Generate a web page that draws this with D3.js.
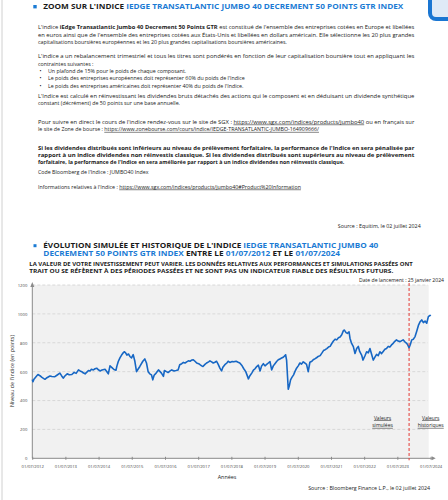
<!DOCTYPE html>
<html><head><meta charset="utf-8">
<script src="https://cdn.jsdelivr.net/npm/d3@7"></script>
<style>body{margin:0;background:#fff}svg{display:block}</style>
</head><body>
<svg id="c" width="448" height="500"></svg>
<script>
// ---------------- DATA ----------------
const xTickYears = [2012,2013,2014,2015,2016,2017,2018,2019,2020,2021,2022,2023,2024];
const yTicks = [0,200,400,600,800,1000,1200];
// dates as decimal years
const seriesYears = [
2012.50,2012.52,2012.55,2012.63,2012.67,2012.73,2012.79,2012.88,2012.94,2013.03,
2013.09,2013.18,2013.24,2013.33,2013.38,2013.43,2013.48,2013.55,2013.61,2013.69,
2013.76,2013.82,2013.89,2013.94,2013.99,2014.03,2014.09,2014.15,2014.19,2014.24,
2014.28,2014.34,2014.39,2014.44,2014.48,2014.54,2014.60,2014.69,2014.73,2014.79,
2014.84,2014.90,2014.96,2015.02,2015.05,2015.09,2015.14,2015.19,2015.23,2015.27,
2015.31,2015.35,2015.40,2015.44,2015.49,2015.54,2015.59,2015.64,2015.68,2015.74,
2015.83,2015.89,2015.94,2015.99,2016.04,2016.09,2016.13,2016.17,2016.23,2016.30,
2016.35,2016.39,2016.45,2016.48,2016.54,2016.59,2016.65,2016.70,2016.77,2016.83,
2016.89,2016.94,2017.00,2017.05,2017.10,2017.15,2017.20,2017.25,2017.30,2017.35,
2017.40,2017.45,2017.51,2017.55,2017.60,2017.64,2017.70,2017.75,2017.81,2017.85,
2017.90,2017.95,2018.00,2018.05,2018.10,2018.15,2018.20,2018.24,2018.30,2018.36,
2018.40,2018.45,2018.52,2018.57,2018.64,2018.70,2018.75,2018.82,2018.87,2018.93,
2019.01,2019.05,2019.11,2019.16,2019.21,2019.26,2019.31,2019.36,2019.41,2019.46,
2019.51,2019.56,2019.61,2019.66,2019.71,2019.76,2019.81,2019.86,2019.91,2019.96,
2020.01,2020.06,2020.11,2020.13,2020.16,2020.19,2020.21,2020.24,2020.28,2020.32,
2020.37,2020.41,2020.46,2020.51,2020.56,2020.61,2020.66,2020.71,2020.76,2020.81,
2020.86,2020.92,2020.96,2021.02,2021.07,2021.11,2021.17,2021.22,2021.27,2021.32,
2021.37,2021.42,2021.47,2021.52,2021.57,2021.62,2021.67,2021.72,2021.77,2021.82,
2021.87,2021.90,2021.95,2021.99,2022.04,2022.07,2022.11,2022.17,2022.22,2022.27,
2022.32,2022.36,2022.42,2022.46,2022.52,2022.57,2022.62,2022.67,2022.72,2022.77,
2022.82,2022.87,2022.92,2022.97,2023.02,2023.07,2023.12,2023.17,2023.22,2023.27,
2023.32,2023.37,2023.42,2023.47,2023.52,2023.58,2023.63,2023.67,2023.73,2023.78,
2023.82,2023.85,2023.89,2023.93,2023.98,2024.03,2024.08,2024.13,2024.18,2024.23,
2024.28,2024.33,2024.38,2024.43,2024.48,2024.50
];
const seriesValues = [
545,530,548,570,580,572,560,547,558,570,
566,565,575,590,572,555,570,585,578,580,
595,588,612,605,600,592,585,598,608,605,
616,612,620,624,615,605,612,617,605,585,
640,628,615,610,640,670,695,715,728,738,
730,715,722,705,695,718,672,600,615,636,
672,688,660,600,585,578,543,575,590,612,
600,590,567,608,600,594,605,612,605,608,
612,648,655,664,660,668,675,672,680,682,
672,660,655,648,640,636,650,660,668,675,
668,660,665,672,650,624,605,630,648,660,
672,664,670,668,672,665,660,640,620,600,
550,570,590,610,620,635,645,605,640,655,
640,650,660,670,612,640,655,670,682,688,
694,700,711,717,680,560,478,500,543,560,
578,600,624,640,660,652,668,660,650,600,
665,672,682,690,698,705,711,728,746,752,
760,770,775,795,812,825,820,835,840,855,
884,888,870,865,876,830,800,773,726,760,
775,740,715,680,710,738,730,760,720,680,
700,720,710,738,725,740,755,760,775,770,
785,796,810,820,812,808,815,820,805,796,
780,765,790,820,825,843,880,920,945,958,
940,950,935,981,990,985
];
const launchYear = 2023.85;
const launchLabel = "Date de lancement : 25 janvier 2024";
const zoneLabels = [["Valeurs","simulées"],["Valeurs","historiques"]];
const zoneYears = [2023.05, 2024.5];

// ---------------- HELPERS ----------------
const svg = d3.select("#c");
const BLUE = "#1b7bd4", INK = "#1a1a1a";
const FONT = "'Open Sans', 'Noto Sans', sans-serif";
const toDate = y => { const yr = Math.floor(y); const s = Date.UTC(yr,0,1), e = Date.UTC(yr+1,0,1); return new Date(s + (y-yr)*(e-s)); };

function line(x, y, segs, o = {}) {
  const t = svg.append("text").attr("x", x).attr("y", y)
    .attr("font-family", FONT).attr("font-size", o.size || 5.3)
    .attr("fill", o.fill || INK).attr("text-anchor", o.anchor || "start");
  if (o.bold) t.attr("font-weight", "bold");
  segs.forEach(([s, f]) => {
    const sp = t.append("tspan").text(s);
    if (f.includes("b")) sp.attr("font-weight", "bold");
    if (f.includes("u")) sp.attr("text-decoration", "underline");
    if (f.includes("c")) sp.attr("fill", BLUE);
    if (f.includes("k")) sp.attr("fill", INK);
  });
  if (o.w) t.attr("textLength", o.w).attr("lengthAdjust", "spacingAndGlyphs");
  return t;
}

// page decorations
svg.append("line").attr("x1", 2).attr("x2", 2).attr("y1", 0).attr("y2", 500).attr("stroke", "#d0d0d0").attr("stroke-width", 1);
svg.append("rect").attr("x", 430).attr("y", -12).attr("width", 30).attr("height", 31).attr("rx", 6)
  .attr("fill", "#dfeaf7").attr("stroke", "#1a76d2").attr("stroke-width", 4);

// ---------------- HEADER 1 ----------------
svg.append("rect").attr("x", 33.3).attr("y", 5).attr("width", 3.4).attr("height", 3.4).attr("fill", BLUE);
line(43.3, 9.3, [["ZOOM SUR L'INDICE ", "k"], ["IEDGE TRANSATLANTIC JUMBO 40 DECREMENT 50 POINTS GTR INDEX", "c"]], {size: 7.6, bold: true, w: 360});

const L = 38, R = 414.3;
// [baseline, justified?, segments]
const body = [
  [29.3, true, [["L'indice ", ""], ["iEdge Transatlantic Jumbo 40 Decrement 50 Points GTR", "b"], [" est constitué de l'ensemble des entreprises cotées en Europe et libellées", ""]]],
  [36.7, true, [["en euros ainsi que de l'ensemble des entreprises cotées aux États-Unis et libellées en dollars américain. Elle sélectionne les 20 plus grandes", ""]]],
  [44.2, false, [["capitalisations boursières européennes et les 20 plus grandes capitalisations boursières américaines.", ""]]],
  [58.2, true, [["L'indice a un rebalancement trimestriel et tous les titres sont pondérés en fonction de leur capitalisation boursière tout en appliquant les", ""]]],
  [65.6, false, [["contraintes suivantes :", ""]]],
  [97.6, true, [["L'Indice est calculé en réinvestissant les dividendes bruts détachés des actions qui le composent et en déduisant un dividende synthétique", ""]]],
  [105.2, false, [["constant (décrément) de 50 points sur une base annuelle.", ""]]],
  [123.6, true, [["Pour suivre en direct le cours de l'indice rendez-vous sur le site de SGX : ", ""], ["https://www.sgx.com/indices/products/jumbo40", "u"], [" ou en français sur", ""]]],
  [130.9, false, [["le site de Zone de bourse : ", ""], ["https://www.zonebourse.com/cours/indice/IEDGE-TRANSATLANTIC-JUMBO-164909666/", "u"]]],
  [149.6, true, [["Si les dividendes distribués sont inférieurs au niveau de prélèvement forfaitaire, la performance de l'Indice en sera pénalisée par", "b"]]],
  [156.9, true, [["rapport à un indice dividendes non réinvestis classique. Si les dividendes distribués sont supérieurs au niveau de prélèvement", "b"]]],
  [164.2, false, [["forfaitaire, la performance de l'Indice en sera améliorée par rapport à un indice dividendes non réinvestis classique.", "b"]]],
  [174.2, false, [["Code Bloomberg de l'Indice : JUMBO40 Index", ""]]],
  [188.6, false, [["Informations relatives à l'Indice : ", ""], ["https://www.sgx.com/indices/products/jumbo40#Product%20Information", "u"]]]
];
body.forEach(([y, just, segs]) => line(L, y, segs, just ? {w: R - L} : {}));

const bullets = [
  [72.9, "Un plafond de 15% pour le poids de chaque composant."],
  [80.2, "Le poids des entreprises européennes doit représenter 60% du poids de l'Indice"],
  [87.6, "Le poids des entreprises américaines doit représenter 40% du poids de l'Indice."]
];
bullets.forEach(([y, s]) => {
  line(39.5, y, [["•", ""]]);
  line(48, y, [[s, ""]]);
});

line(420.7, 227.6, [["Source : Equitim, le 02 juillet 2024", ""]], {anchor: "end"});

// ---------------- HEADER 2 ----------------
svg.append("rect").attr("x", 33.5).attr("y", 244.2).attr("width", 3).attr("height", 3).attr("fill", BLUE);
line(43.3, 247.6, [["ÉVOLUTION SIMULÉE ET HISTORIQUE DE L'INDICE ", "k"], ["IEDGE TRANSATLANTIC JUMBO 40", "c"]], {size: 7, bold: true, w: 335});
line(43.3, 256.2, [["DECREMENT 50 POINTS GTR INDEX", "c"], [" ENTRE LE ", "k"], ["01/07/2012", "c"], [" ET LE ", "k"], ["01/07/2024", "c"]], {size: 7, bold: true, w: 296.7});
line(29.3, 265.6, [["LA VALEUR DE VOTRE INVESTISSEMENT PEUT VARIER. LES DONNÉES RELATIVES AUX PERFORMANCES ET SIMULATIONS PASSÉES ONT", ""]], {size: 5, bold: true, w: 383.4});
line(29.3, 273.4, [["TRAIT OU SE RÉFÈRENT À DES PÉRIODES PASSÉES ET NE SONT PAS UN INDICATEUR FIABLE DES RÉSULTATS FUTURS.", ""]], {size: 5, bold: true, w: 364});
line(444, 282, [[launchLabel, ""]], {anchor: "end", size: 5.1});

// ---------------- CHART ----------------
const x = d3.scaleUtc().domain([toDate(2012.5), toDate(2024.5)]).range([32.3, 430.7]);
const y = d3.scaleLinear().domain([0, 1200]).range([458.3, 285]);
const data = seriesYears.map((yr, i) => ({d: toDate(yr), v: seriesValues[i]}));

svg.append("rect").attr("x", x.range()[0]).attr("y", y(1200)).attr("width", x.range()[1] - x.range()[0] - 2)
  .attr("height", y(0) - y(1200)).attr("fill", "#f1f1f1");

svg.append("g").selectAll("line").data(yTicks.filter(d => d > 0)).join("line")
  .attr("x1", x.range()[0]).attr("x2", x.range()[1] - 3).attr("y1", d => y(d)).attr("y2", d => y(d))
  .attr("stroke", "#d2d2d2").attr("stroke-width", 0.8).attr("stroke-dasharray", "3,2");

// y axis
const yAxis = svg.append("g").attr("transform", `translate(${x.range()[0]},0)`)
  .call(d3.axisLeft(y).tickValues(yTicks).tickFormat(d3.format("d")).tickSize(0).tickPadding(5));
yAxis.select(".domain").attr("stroke", "#8a8a8a").attr("stroke-width", 1).attr("d", `M0,${y(0)}V${y(1200) - 1}`);
yAxis.selectAll("text").attr("font-family", FONT).attr("font-size", 4.2).attr("fill", "#444");
svg.append("path").attr("d", `M${x.range()[0] - 2},${y(1200) + 2}L${x.range()[0]},${y(1200) - 3}L${x.range()[0] + 2},${y(1200) + 2}Z`).attr("fill", "#8a8a8a");

// x axis
const fmt = d3.utcFormat("%d/%m/%Y");
const xAxis = svg.append("g").attr("transform", `translate(0,${y(0)})`)
  .call(d3.axisBottom(x).tickValues(xTickYears.map(yy => new Date(Date.UTC(yy, 6, 1)))).tickFormat(fmt).tickSize(3).tickPadding(4));
xAxis.select(".domain").attr("stroke", "#8a8a8a").attr("stroke-width", 1).attr("d", `M${x.range()[0]},0H${x.range()[1] + 1}`);
xAxis.selectAll(".tick line").attr("stroke", "#8a8a8a").attr("y1", -1.5).attr("y2", 1.5);
xAxis.selectAll("text").attr("font-family", FONT).attr("font-size", 4.2).attr("fill", "#444");
svg.append("path").attr("d", `M${x.range()[1] + 1},${y(0) - 2}L${x.range()[1] + 5},${y(0)}L${x.range()[1] + 1},${y(0) + 2}Z`).attr("fill", "#8a8a8a");

// axis titles
svg.append("text").attr("transform", `translate(13.5,371) rotate(-90)`).attr("text-anchor", "middle")
  .attr("font-family", FONT).attr("font-size", 5.4).attr("fill", INK).text("Niveau de l'indice (en points)");
svg.append("text").attr("x", 227).attr("y", 479).attr("text-anchor", "middle")
  .attr("font-family", FONT).attr("font-size", 5.4).attr("fill", INK).text("Années");

// series line
svg.append("path").datum(data)
  .attr("d", d3.line().x(d => x(d.d)).y(d => y(d.v)))
  .attr("fill", "none").attr("stroke", "#1767c4").attr("stroke-width", 1.6).attr("stroke-linejoin", "round");

// launch marker
const lx = x(toDate(launchYear));
svg.append("line").attr("x1", lx).attr("x2", lx).attr("y1", 283).attr("y2", y(0) + 2)
  .attr("stroke", "#e53935").attr("stroke-width", 1).attr("stroke-dasharray", "3,2");

// zone labels
zoneLabels.forEach((lines, i) => {
  lines.forEach((s, j) => {
    svg.append("text").attr("x", x(toDate(zoneYears[i]))).attr("y", 419.5 + j * 7.4).attr("text-anchor", "middle")
      .attr("font-family", FONT).attr("font-size", 5).attr("fill", INK)
      .attr("text-decoration", "underline").text(s);
  });
});

line(430, 490, [["Source : Bloomberg Finance L.P., le 02 juillet 2024", ""]], {anchor: "end", size: 5.3});
</script>
</body></html>
